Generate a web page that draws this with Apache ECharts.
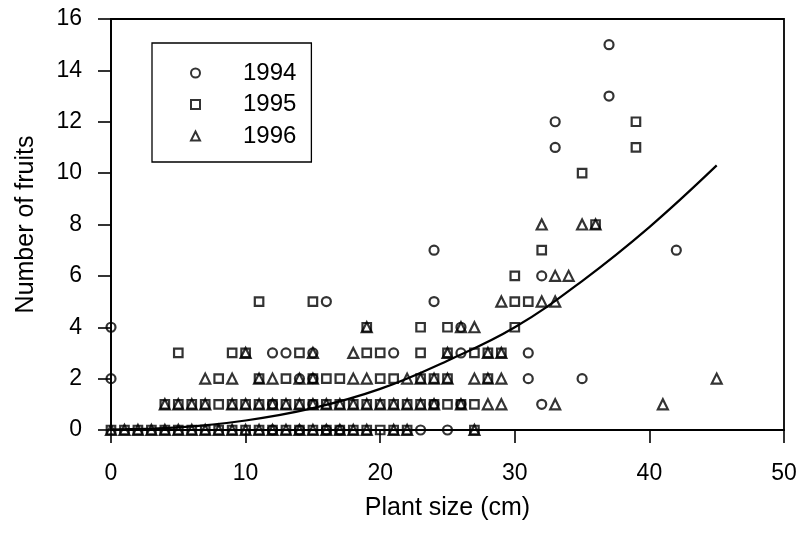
<!DOCTYPE html>
<html>
<head>
<meta charset="utf-8">
<script src="https://cdn.jsdelivr.net/npm/echarts@6/dist/echarts.min.js"></script>
<style>html,body{margin:0;padding:0;background:#fff;}#c{width:800px;height:534px;}</style>
</head>
<body>
<div id="c"></div>
<script>
const seriesNames = ['1994', '1995', '1996'];
const xTicks = [0, 10, 20, 30, 40, 50];
const yTicks = [0, 2, 4, 6, 8, 10, 12, 14, 16];

const pts1994 = [
  [12,0],[14,0],[16,0],[17,0],[23,0],[25,0],
  [12,1],[15,1],[24,1],[26,1],[32,1],
  [0,2],[14,2],[15,2],[31,2],[35,2],
  [12,3],[13,3],[15,3],[21,3],[26,3],[31,3],
  [0,4],[26,4],
  [16,5],[24,5],
  [32,6],
  [24,7],[42,7],
  [33,11],[33,12],[37,13],[37,15]
];
const pts1995 = [
  [0,0],[1,0],[2,0],[3,0],[4,0],[5,0],[6,0],[7,0],[8,0],[9,0],[10,0],[11,0],[12,0],[13,0],[14,0],[15,0],[16,0],[17,0],[18,0],[19,0],[20,0],[21,0],[22,0],[27,0],
  [4,1],[5,1],[6,1],[7,1],[8,1],[9,1],[10,1],[11,1],[12,1],[13,1],[14,1],[15,1],[16,1],[17,1],[18,1],[19,1],[20,1],[21,1],[22,1],[23,1],[24,1],[25,1],[26,1],[27,1],
  [8,2],[11,2],[13,2],[15,2],[16,2],[17,2],[20,2],[21,2],[23,2],[24,2],[25,2],[28,2],
  [5,3],[9,3],[10,3],[14,3],[19,3],[20,3],[23,3],[25,3],[27,3],[28,3],[29,3],
  [19,4],[23,4],[25,4],[30,4],
  [11,5],[15,5],[30,5],[31,5],
  [30,6],[32,7],[36,8],[35,10],[39,11],[39,12]
];
const pts1996 = [
  [0,0],[1,0],[2,0],[3,0],[4,0],[5,0],[6,0],[7,0],[8,0],[9,0],[10,0],[11,0],[12,0],[13,0],[14,0],[15,0],[16,0],[17,0],[18,0],[19,0],[21,0],[22,0],[27,0],
  [4,1],[5,1],[6,1],[7,1],[9,1],[10,1],[11,1],[12,1],[13,1],[14,1],[15,1],[16,1],[17,1],[18,1],[19,1],[20,1],[21,1],[22,1],[23,1],[24,1],[26,1],[28,1],[29,1],[33,1],[41,1],
  [7,2],[9,2],[11,2],[12,2],[14,2],[15,2],[18,2],[19,2],[22,2],[23,2],[24,2],[25,2],[27,2],[28,2],[29,2],[45,2],
  [10,3],[15,3],[18,3],[25,3],[28,3],[29,3],
  [19,4],[26,4],[27,4],
  [29,5],[32,5],[33,5],
  [33,6],[34,6],
  [32,8],[35,8],[36,8]
];
const curveX = [0, 5, 10, 15, 20, 25, 30, 35, 40, 45];
const curveY = [0.02, 0.1, 0.37, 0.85, 1.6, 2.7, 4.0, 5.8, 7.9, 10.3];

const FONT = '"Liberation Sans", Arial, Helvetica, sans-serif';
const chart = echarts.init(document.getElementById('c'), null, {renderer: 'canvas'});
const symStyle = {color: 'rgba(0,0,0,0)', borderColor: '#000', borderWidth: 2.2};
function sc(name, data, symbol, size) {
  return {
    name: name, type: 'scatter', data: data, symbol: symbol, symbolSize: size,
    itemStyle: symStyle, silent: true, z: 3
  };
}
chart.setOption({
  animation: false,
  backgroundColor: '#fff',
  grid: {left: 111, right: 16, top: 19, bottom: 104, show: true, borderColor: '#000', borderWidth: 1.8, backgroundColor: 'transparent'},
  legend: {
    orient: 'vertical', left: 152, top: 43,
    data: [
      {name: seriesNames[0], icon: 'circle'},
      {name: seriesNames[1], icon: 'rect'},
      {name: seriesNames[2], icon: 'triangle'}
    ],
    itemWidth: 9, itemHeight: 9, itemGap: 7.5,
    padding: [18, 15, 14, 38],
    borderColor: '#000', borderWidth: 1.3, backgroundColor: '#fff',
    itemStyle: {color: 'rgba(0,0,0,0)', borderColor: '#000', borderWidth: 2},
    textStyle: {fontFamily: FONT, fontSize: 24, color: '#000', lineHeight: 24, padding: [0, 0, 0, 38]},
    selectedMode: false
  },
  xAxis: {
    type: 'value', min: 0, max: 50, interval: 10,
    name: 'Plant size (cm)', nameLocation: 'middle', nameGap: 66,
    nameTextStyle: {fontFamily: FONT, fontSize: 25, color: '#000'},
    axisLine: {onZero: false, lineStyle: {color: '#000', width: 1.8}},
    axisTick: {inside: false, length: 13, lineStyle: {color: '#000', width: 1.6}},
    axisLabel: {margin: 32, fontFamily: FONT, fontSize: 23, color: '#000',
      formatter: function (v) { return xTicks.indexOf(v) >= 0 ? String(v) : ''; }},
    splitLine: {show: false}
  },
  yAxis: {
    type: 'value', min: 0, max: 16, interval: 2,
    name: 'Number of fruits', nameLocation: 'middle', nameGap: 72,
    nameTextStyle: {fontFamily: FONT, fontSize: 25, color: '#000'},
    axisLine: {onZero: false, lineStyle: {color: '#000', width: 1.8}},
    axisTick: {inside: false, length: 13, lineStyle: {color: '#000', width: 1.6}},
    axisLabel: {margin: 29, fontFamily: FONT, fontSize: 23, color: '#000',
      formatter: function (v) { return yTicks.indexOf(v) >= 0 ? String(v) : ''; }},
    splitLine: {show: false}
  },
  series: [
    sc(seriesNames[0], pts1994, 'circle', 9),
    sc(seriesNames[1], pts1995, 'rect', 8.5),
    sc(seriesNames[2], pts1996, 'triangle', 10),
    {
      type: 'line', data: curveX.map(function (x, i) { return [x, curveY[i]]; }),
      smooth: 0.4, showSymbol: false, symbol: 'none', silent: true, z: 4,
      lineStyle: {color: '#000', width: 2.2}
    }
  ]
});
</script>
</body>
</html>
